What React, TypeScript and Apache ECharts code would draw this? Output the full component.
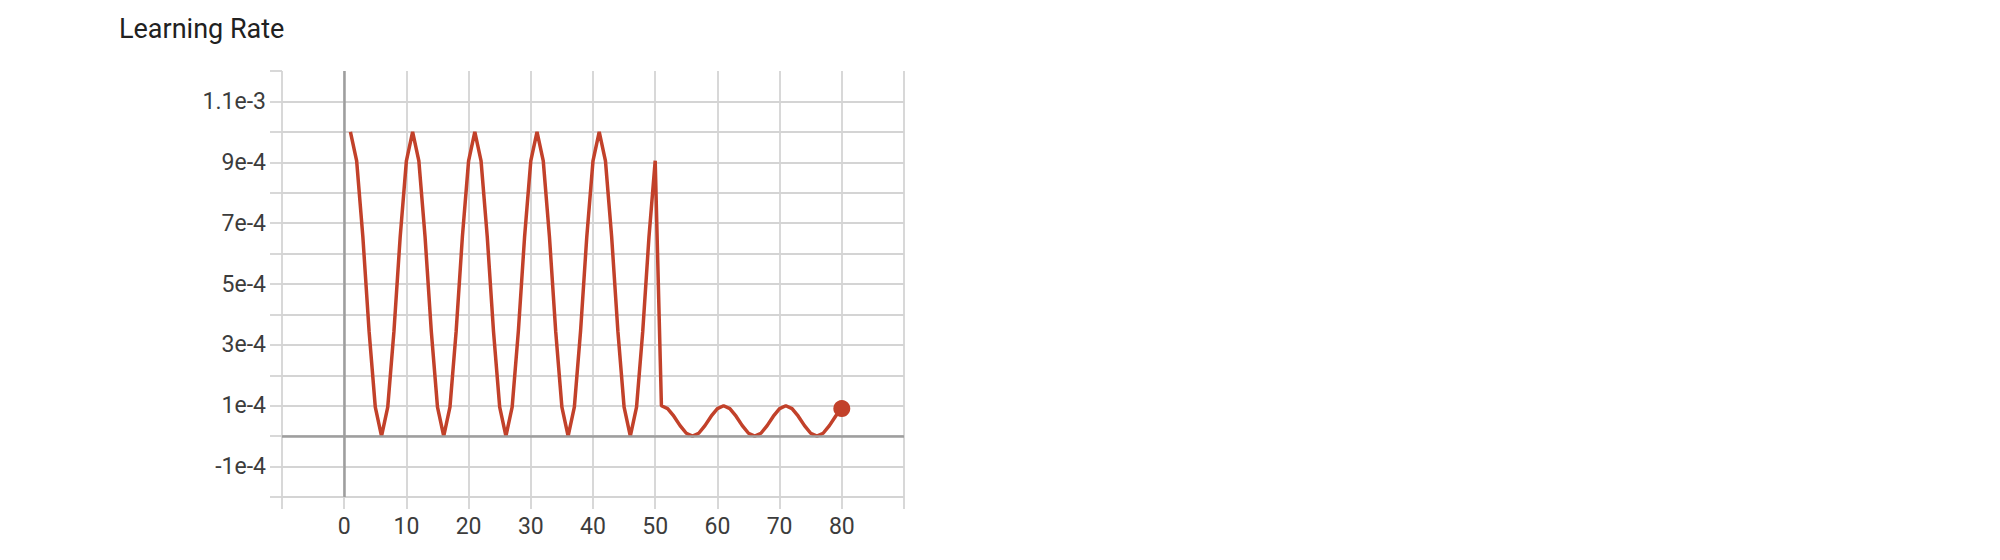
import React, { useEffect, useRef } from 'react';
import * as echarts from 'echarts';

// step numbers and learning rates
const steps = Array.from({ length: 80 }, (_, i) => i + 1);
const learningRate = [
  1e-3, 9.05e-4, 6.55e-4, 3.45e-4, 9.5e-5, 0, 9.5e-5, 3.45e-4, 6.55e-4, 9.05e-4,
  1e-3, 9.05e-4, 6.55e-4, 3.45e-4, 9.5e-5, 0, 9.5e-5, 3.45e-4, 6.55e-4, 9.05e-4,
  1e-3, 9.05e-4, 6.55e-4, 3.45e-4, 9.5e-5, 0, 9.5e-5, 3.45e-4, 6.55e-4, 9.05e-4,
  1e-3, 9.05e-4, 6.55e-4, 3.45e-4, 9.5e-5, 0, 9.5e-5, 3.45e-4, 6.55e-4, 9.05e-4,
  1e-3, 9.05e-4, 6.55e-4, 3.45e-4, 9.5e-5, 0, 9.5e-5, 3.45e-4, 6.55e-4, 9.05e-4,
  1e-4, 9.05e-5, 6.55e-5, 3.45e-5, 9.5e-6, 0, 9.5e-6, 3.45e-5, 6.55e-5, 9.05e-5,
  1e-4, 9.05e-5, 6.55e-5, 3.45e-5, 9.5e-6, 0, 9.5e-6, 3.45e-5, 6.55e-5, 9.05e-5,
  1e-4, 9.05e-5, 6.55e-5, 3.45e-5, 9.5e-6, 0, 9.5e-6, 3.45e-5, 6.55e-5, 9.05e-5,
];
const yTickLabels: Record<number, string> = {
  11: '1.1e-3', 9: '9e-4', 7: '7e-4', 5: '5e-4', 3: '3e-4', 1: '1e-4', [-1]: '-1e-4',
};
const xTickLabels = [0, 10, 20, 30, 40, 50, 60, 70, 80];

const App = () => {
  const chartRef = useRef<HTMLDivElement>(null);

  useEffect(() => {
    if (!chartRef.current) return;
    const chart = echarts.init(chartRef.current, undefined, { renderer: 'svg' });
    const points = steps.map((s, i) => [s, learningRate[i]]);
    const lineColor = '#c2412a';
    const gridLine = { lineStyle: { color: '#d4d4d4', width: 1.8 } };

    chart.setOption({
      animation: false,
      textStyle: { fontFamily: 'Roboto' },
      title: {
        text: 'Learning Rate',
        left: 114,
        top: 10,
        textStyle: { fontSize: 27, fontWeight: 'normal', color: '#212121' },
      },
      grid: { left: 282, right: 1096, top: 71, bottom: 63 },
      xAxis: {
        type: 'value',
        min: -10,
        max: 90,
        interval: 10,
        axisLine: { show: false, onZero: false },
        axisTick: { show: true, length: 12, lineStyle: { color: '#d4d4d4', width: 1.8 } },
        splitLine: gridLine,
        axisLabel: {
          fontSize: 23,
          color: '#3c3c3c',
          margin: 18,
          formatter: (v: number) => (xTickLabels.includes(v) ? String(v) : ''),
        },
      },
      yAxis: {
        type: 'value',
        min: -2e-4,
        max: 1.2e-3,
        interval: 1e-4,
        axisLine: { show: false, onZero: false },
        axisTick: { show: true, length: 12, lineStyle: { color: '#d4d4d4', width: 1.8 } },
        splitLine: { ...gridLine, showMaxLine: false },
        axisLabel: {
          fontSize: 23,
          color: '#3c3c3c',
          margin: 16,
          formatter: (v: number) => yTickLabels[Math.round(v * 1e4)] ?? '',
        },
      },
      series: [
        {
          type: 'line',
          data: points,
          showSymbol: false,
          lineStyle: { color: lineColor, width: 3.5 },
          itemStyle: { color: lineColor },
          markLine: {
            silent: true,
            symbol: 'none',
            label: { show: false },
            lineStyle: { color: '#9e9e9e', width: 2.5, type: 'solid' },
            data: [{ xAxis: 0 }, { yAxis: 0 }],
          },
        },
        {
          type: 'scatter',
          data: points.slice(-1),
          symbolSize: 17,
          itemStyle: { color: lineColor, opacity: 1 },
        },
      ],
    });

    return () => {
      chart.dispose();
    };
  }, []);

  return (
    <div
      ref={chartRef}
      style={{ position: 'absolute', left: 0, top: 0, width: '2000px', height: '560px' }}
    ></div>
  );
};

export default App;
